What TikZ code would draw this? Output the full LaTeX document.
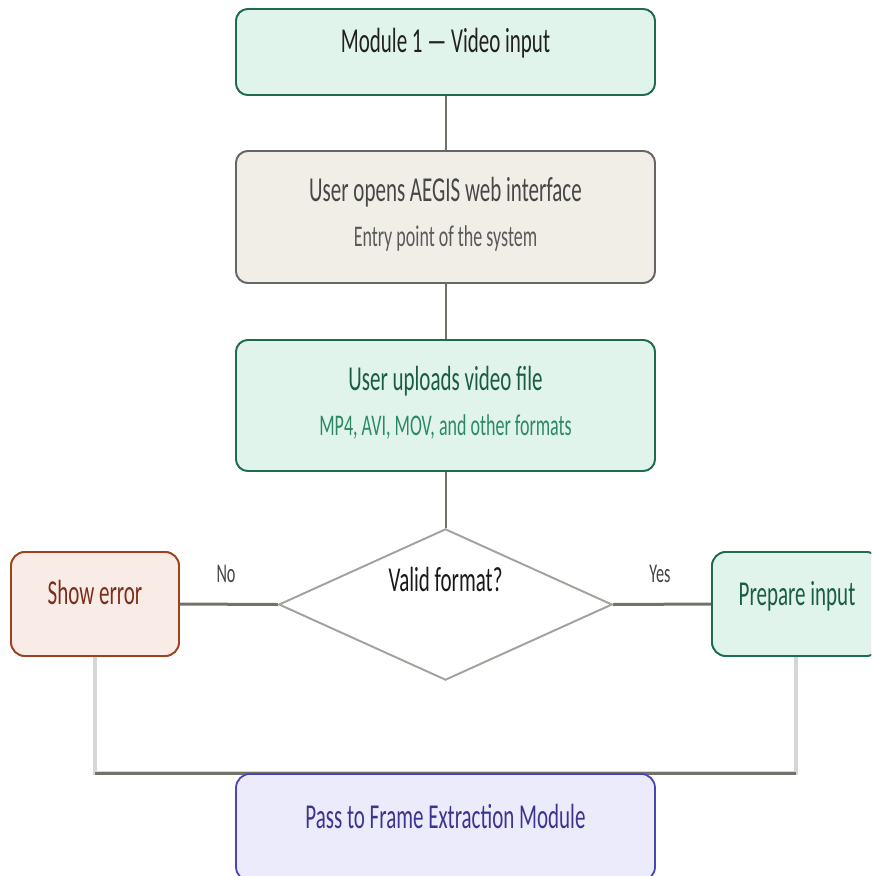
\documentclass[tikz,border=0pt]{standalone}
\usepackage{fontspec}
\setmainfont[FakeStretch=0.6]{Carlito}
\usetikzlibrary{shapes.geometric}

\definecolor{mintfill}{HTML}{E1F4EC}
\definecolor{mintdraw}{HTML}{1E6B4F}
\definecolor{minttext}{HTML}{1A5C45}
\definecolor{mintsub}{HTML}{2B8A65}
\definecolor{sandfill}{HTML}{F1EEE8}
\definecolor{sanddraw}{HTML}{666666}
\definecolor{sandtext}{HTML}{474747}
\definecolor{sandsub}{HTML}{5A5A5A}
\definecolor{errfill}{HTML}{F9EBE6}
\definecolor{errdraw}{HTML}{A0401F}
\definecolor{errtext}{HTML}{7B2E1A}
\definecolor{lilacfill}{HTML}{ECEBFB}
\definecolor{lilacdraw}{HTML}{4A45B5}
\definecolor{lilactext}{HTML}{3C358F}
\definecolor{linkdark}{HTML}{72726B}
\definecolor{linklight}{HTML}{D6D6D6}
\definecolor{diadraw}{HTML}{A3A39D}
\definecolor{labeltext}{HTML}{444444}

\tikzset{
  box/.style={draw, line width=1.8pt, rounded corners=12pt, inner sep=0pt},
  mintbox/.style={box, fill=mintfill, draw=mintdraw},
  sandbox/.style={box, fill=sandfill, draw=sanddraw},
  errbox/.style={box, fill=errfill, draw=errdraw, rounded corners=14pt},
  lilacbox/.style={box, fill=lilacfill, draw=lilacdraw, rounded corners=14pt},
  decision/.style={diamond, draw=diadraw, line width=1.8pt, fill=white, inner sep=0pt},
  title/.style={anchor=base, inner sep=0pt, font=\fontsize{35}{40}\selectfont},
  subtitle/.style={anchor=base, inner sep=0pt, font=\fontsize{30}{34}\selectfont},
  edgelabel/.style={anchor=base, inner sep=0pt, text=labeltext, font=\fontsize{27}{30}\selectfont},
  link/.style={draw=linkdark, line width=2pt},
  branch/.style={draw=linkdark, line width=3pt},
  droplink/.style={draw=linklight, line width=3.5pt},
}

\begin{document}
\begin{tikzpicture}[x=1pt, y=-1pt]
\useasboundingbox (0,0) rectangle (871,876);
\clip (0,0) rectangle (871,876);
\fill[white] (0,0) rectangle (871,876);

% node outlines, named so the connectors can refer to them
\node[mintbox, minimum width=419pt, minimum height=86pt] (m1) at (445.5,52) {};
\node[sandbox, minimum width=419pt, minimum height=132pt] (open) at (445.5,217) {};
\node[mintbox, minimum width=419pt, minimum height=131pt] (upload) at (445.5,405.5) {};
\node[decision, minimum width=333pt, minimum height=151pt] (valid) at (445.5,604.5) {};
\node[errbox, minimum width=168pt, minimum height=104pt] (err) at (95,604) {};
\node[mintbox, rounded corners=14pt, minimum width=168pt, minimum height=104pt] (prep) at (796,604) {};

\coordinate (join) at (445.5,773);

% connectors
\draw[link] (m1.south) -- (open.north);
\draw[link] (open.south) -- (upload.north);
\draw[link] (upload.south) -- (valid.north);
\draw[branch] (valid.west) -- (err.east);
\draw[branch] (valid.east) -- (prep.west);
\draw[droplink] (err.south) |- (join);
\draw[droplink] (prep.south) |- (join);
\draw[branch] ([yshift=-0.5pt]err.south |- join) -- ([yshift=-0.5pt]prep.south |- join);

% boxes drawn again on top of the connector ends
\node[mintbox, minimum width=419pt, minimum height=86pt] at (m1) {};
\node[sandbox, minimum width=419pt, minimum height=132pt] at (open) {};
\node[mintbox, minimum width=419pt, minimum height=131pt] at (upload) {};
\node[decision, minimum width=333pt, minimum height=151pt] at (valid) {};
\node[errbox, minimum width=168pt, minimum height=104pt] at (err) {};
\node[mintbox, rounded corners=14pt, minimum width=168pt, minimum height=104pt] at (prep) {};
\node[lilacbox, minimum width=419pt, minimum height=107pt, anchor=north] (pass) at (join) {};

% texts
\node[title, text=black!87] (t1) at (445.5,52) {Module 1 — Video input};
\node[title, text=sandtext] (t2) at (445.5,201) {User opens AEGIS web interface};
\node[subtitle, text=sandsub] (s2) at (445.5,246) {Entry point of the system};
\node[title, text=minttext] (t3) at (445.5,390) {User uploads video file};
\node[subtitle, text=mintsub] (s3) at (445.5,435) {MP4, AVI, MOV, and other formats};
\node[title, text=black!90] (t4) at (445.5,591) {Valid format?};
\node[title, text=errtext] (t5) at (95,604) {Show error};
\node[title, text=minttext] (t6) at (797,605) {Prepare input};
\node[title, text=lilactext] (t7) at (445.5,828) {Pass to Frame Extraction Module};
\node[edgelabel] (no) at (226,582) {No};
\node[edgelabel] (yes) at (660,582) {Yes};
\end{tikzpicture}
\end{document}
